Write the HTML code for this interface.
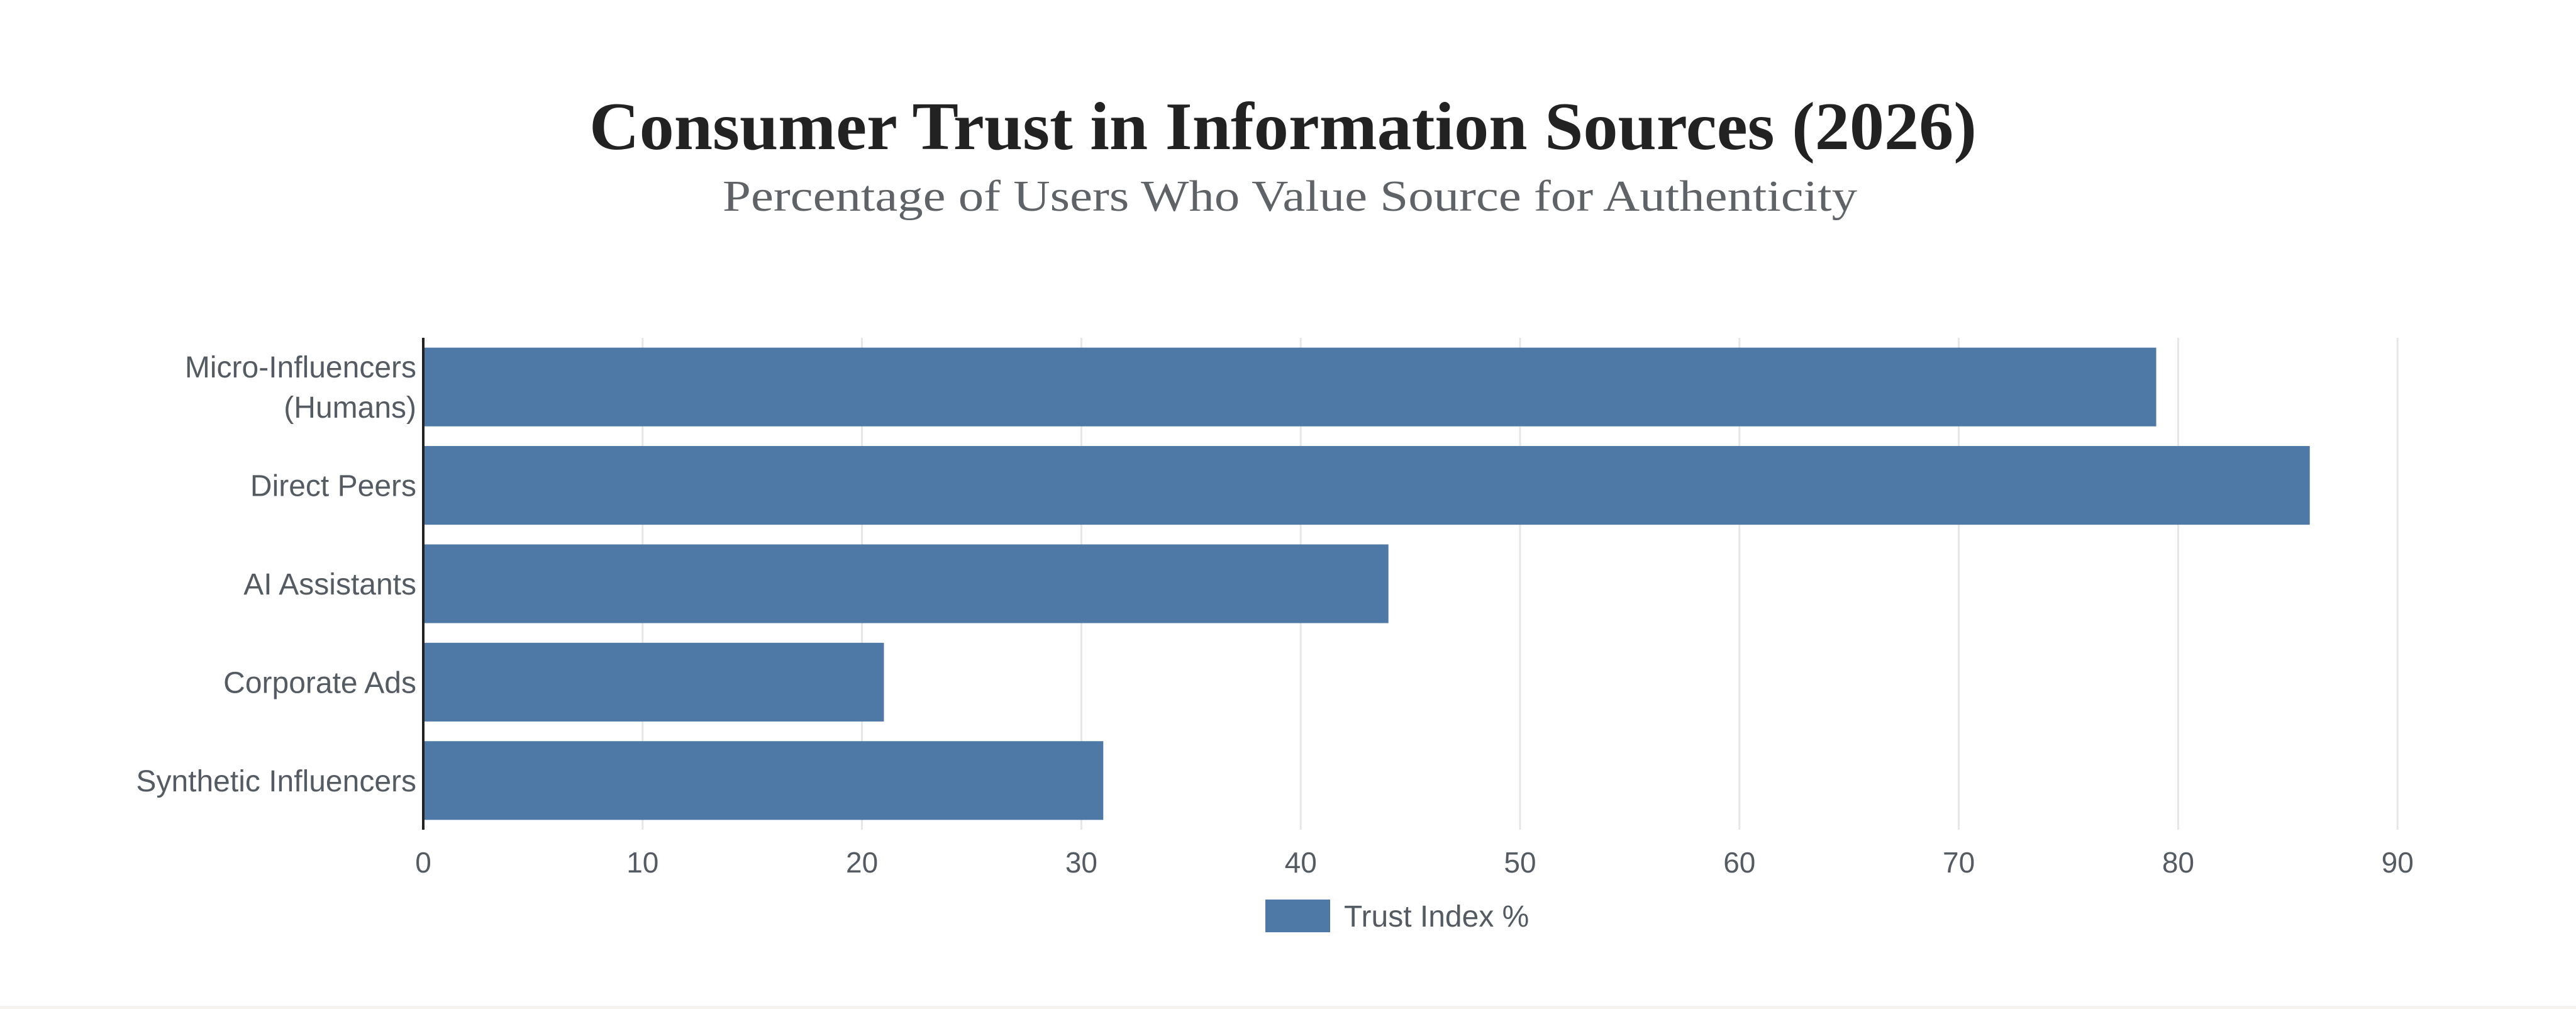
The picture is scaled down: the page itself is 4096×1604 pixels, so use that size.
<!DOCTYPE html>
<html><head><meta charset="utf-8"><style>
html,body{margin:0;padding:0;background:#fff;}
svg{display:block;}
</style></head><body>
<svg id="chart" width="4096" height="1604" viewBox="0 0 4096 1604" xmlns="http://www.w3.org/2000/svg">
<rect x="0" y="0" width="4096" height="1604" fill="#fff"/>
<rect x="0" y="1599" width="4096" height="5" fill="#f6f3ee"/>
<text x="2040" y="237" text-anchor="middle" font-family="'Liberation Serif', serif" font-weight="bold" font-size="108" fill="#222" textLength="2206" lengthAdjust="spacingAndGlyphs">Consumer Trust in Information Sources (2026)</text>
<text x="2051" y="335" text-anchor="middle" font-family="'Liberation Serif', serif" font-size="70" fill="#5f6368" textLength="1804" lengthAdjust="spacingAndGlyphs">Percentage of Users Who Value Source for Authenticity</text>
<g id="grid"></g>
<g id="bars"></g>
<g id="ylabels"></g>
<g id="xlabels"></g>
<line x1="673" y1="537" x2="673" y2="1319" stroke="#222" stroke-width="4"/>
<rect x="2012" y="1430" width="103" height="52" fill="#4e79a7"/>
<text x="2137" y="1473" font-family="'Liberation Sans', sans-serif" font-size="48" fill="#555b63">Trust Index %</text>
</svg>
<script>
const categories = ["Micro-Influencers (Humans)", "Direct Peers", "AI Assistants", "Corporate Ads", "Synthetic Influencers"];
const trustValues = [79, 86, 44, 21, 31];
const xTicks = [0, 10, 20, 30, 40, 50, 60, 70, 80, 90];

const NS = "http://www.w3.org/2000/svg";
const x0 = 673, unit = 34.88, plotTop = 537, plotBottom = 1319;
const band = (plotBottom - plotTop) / categories.length;
const barH = band * 0.8;
const xs = v => x0 + v * unit;
const ys = i => plotTop + i * band;

const gridG = document.getElementById('grid');
const xlG = document.getElementById('xlabels');
xTicks.forEach(t => {
  if (t > 0) {
    const l = document.createElementNS(NS, 'line');
    
    
    l.setAttribute('x1', xs(t)); l.setAttribute('x2', xs(t));
    l.setAttribute('y1', plotTop); l.setAttribute('y2', plotBottom);
    l.setAttribute('stroke', '#e6e6e6'); l.setAttribute('stroke-width', '3');
    gridG.appendChild(l);
  }
  const tx = document.createElementNS(NS, 'text');
  
  
  tx.setAttribute('x', xs(t)); tx.setAttribute('y', 1387);
  tx.setAttribute('text-anchor', 'middle');
  tx.setAttribute('font-family', "'Liberation Sans', sans-serif");
  tx.setAttribute('font-size', '46'); tx.setAttribute('fill', '#555b63');
  tx.textContent = t;
  xlG.appendChild(tx);
});

const barsG = document.getElementById('bars');
const ylG = document.getElementById('ylabels');
categories.forEach((c, i) => {
  const r = document.createElementNS(NS, 'rect');
  
  
  r.setAttribute('x', x0); r.setAttribute('y', ys(i) + (band - barH) / 2);
  r.setAttribute('width', trustValues[i] * unit); r.setAttribute('height', barH);
  r.setAttribute('fill', '#4e79a7');
  barsG.appendChild(r);
  const cy = ys(i) + band / 2;
  const lines = c === "Micro-Influencers (Humans)" ? ["Micro-Influencers", "(Humans)"] : [c];
  lines.forEach((ln, k) => {
    const t = document.createElementNS(NS, 'text');
    
    
    t.setAttribute('x', 662);
    t.setAttribute('y', cy + 17 + (k - (lines.length - 1) / 2) * 64);
    t.setAttribute('text-anchor', 'end');
    t.setAttribute('font-family', "'Liberation Sans', sans-serif");
    t.setAttribute('font-size', '48'); t.setAttribute('fill', '#555b63');
    t.textContent = ln;
    ylG.appendChild(t);
  });
});
</script>
</body></html>
